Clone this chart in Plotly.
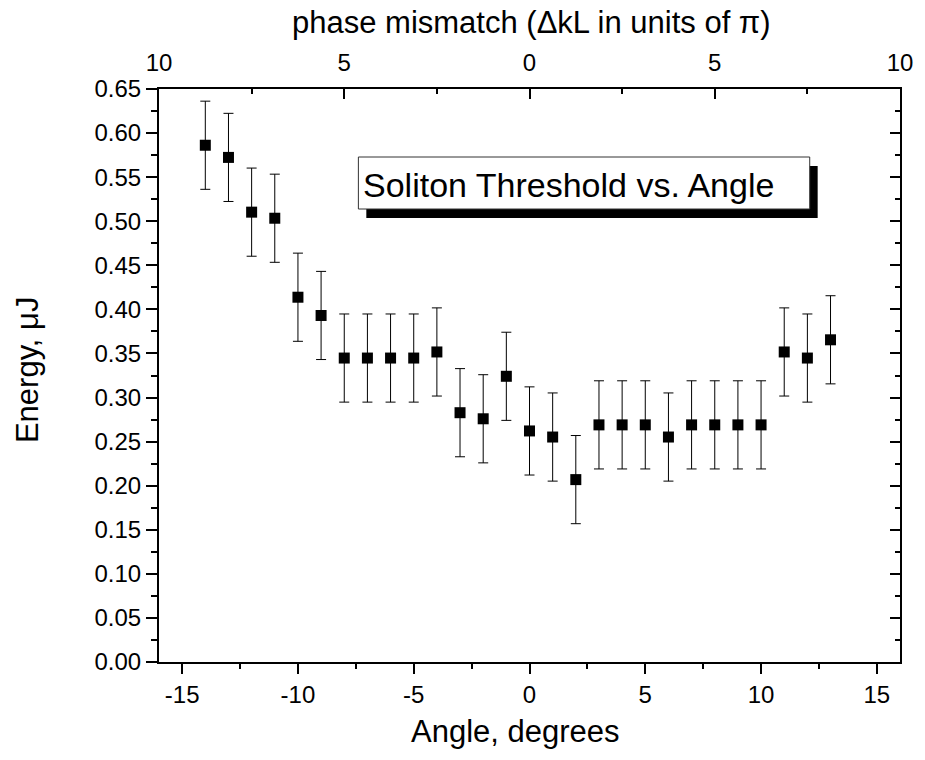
import plotly.graph_objects as go

# Soliton threshold energy measured at each crystal angle
angle_deg = [-14, -13, -12, -11, -10, -9, -8, -7, -6, -5, -4, -3, -2, -1,
             0, 1, 2, 3, 4, 5, 6, 7, 8, 9, 10, 11, 12, 13]
energy_uj = [0.5862, 0.5724, 0.5103, 0.5034, 0.4138, 0.3931, 0.3448, 0.3448,
             0.3448, 0.3448, 0.3517, 0.2828, 0.2759, 0.3241, 0.2621, 0.2552,
             0.2069, 0.2690, 0.2690, 0.2690, 0.2552, 0.2690, 0.2690, 0.2690,
             0.2690, 0.3517, 0.3448, 0.3655]
energy_err = [0.05] * len(angle_deg)

# Bottom axis ticks (plain hyphen minus signs)
angle_ticks = [-15, -10, -5, 0, 5, 10, 15]
angle_labels = ["-15", "-10", "-5", "0", "5", "10", "15"]

# Top axis: phase mismatch (absolute value, units of pi)
phase_ticks = [-10, -5, 0, 5, 10]
phase_labels = ["10", "5", "0", "5", "10"]
phase_minor = [-7.5, -2.5, 2.5, 7.5]

FONT = "Liberation Sans, Arial, sans-serif"

L, R, T, B = 159, 19, 89, 98
W, H = 925, 760
PW, PH = W - L - R, H - T - B


def px(x):
    return (x - L) / PW


def py(y):
    return (H - B - y) / PH


fig = go.Figure()

fig.add_trace(go.Scatter(
    x=angle_deg, y=energy_uj,
    mode="markers",
    marker=dict(symbol="square", size=11, color="black"),
    error_y=dict(type="data", array=energy_err, visible=True,
                 color="black", thickness=1, width=5),
    showlegend=False,
))

# helper trace that anchors the secondary (top / right) axes
fig.add_trace(go.Scatter(
    x=[phase_ticks[0], phase_ticks[-1]], y=[0, 0.65],
    xaxis="x2", yaxis="y2", mode="markers",
    marker=dict(opacity=0), hoverinfo="skip", showlegend=False,
))

axis_common = dict(showgrid=False, zeroline=False, showline=True,
                   linecolor="black", linewidth=2, tickcolor="black",
                   tickwidth=2, tickfont=dict(family=FONT, size=24, color="black"))

fig.update_layout(
    width=W, height=H,
    margin=dict(l=L, r=R, t=T, b=B, pad=0),
    paper_bgcolor="white", plot_bgcolor="white",
    font=dict(family=FONT, color="black"),
    xaxis=dict(
        range=[-16, 16], tickmode="array", tickvals=angle_ticks,
        ticktext=angle_labels, ticks="outside", ticklen=10,
        minor=dict(dtick=2.5, tick0=0, ticks="outside", ticklen=5,
                   tickwidth=2, tickcolor="black"),
        **axis_common,
    ),
    yaxis=dict(
        range=[0, 0.65], tickmode="linear", tick0=0, dtick=0.05,
        tickformat=".2f", ticks="outside", ticklen=11,
        minor=dict(dtick=0.025, tick0=0, ticks="outside", ticklen=6,
                   tickwidth=2, tickcolor="black"),
        **axis_common,
    ),
    xaxis2=dict(
        overlaying="x", side="top", anchor="y", range=[-10, 10],
        tickmode="array", tickvals=phase_ticks, ticktext=phase_labels,
        ticks="inside", ticklen=10, ticklabelstandoff=6,
        minor=dict(tickmode="array", tickvals=phase_minor, ticks="inside",
                   ticklen=5, tickwidth=2, tickcolor="black"),
        **axis_common,
    ),
    yaxis2=dict(
        overlaying="y", side="right", anchor="x", range=[0, 0.65],
        tickmode="linear", tick0=0, dtick=0.05, showticklabels=False,
        ticks="inside", ticklen=10,
        minor=dict(dtick=0.025, tick0=0, ticks="inside", ticklen=5,
                   tickwidth=2, tickcolor="black"),
        **axis_common,
    ),
)

title_font = dict(family=FONT, size=31, color="black")

# axis titles
fig.add_annotation(
    text="phase mismatch (\u0394kL in units of \u03c0)",
    xref="paper", yref="paper", x=px(535), y=py(22),
    xanchor="center", yanchor="middle", showarrow=False, font=title_font,
)
fig.add_annotation(
    text="Angle, degrees",
    xref="paper", yref="paper", x=px(518), y=py(731),
    xanchor="center", yanchor="middle", showarrow=False, font=title_font,
)
fig.add_annotation(
    text="Energy, \u03bcJ", textangle=-90,
    xref="paper", yref="paper", x=px(26), y=py(370),
    xanchor="center", yanchor="middle", showarrow=False, font=title_font,
)

# caption box with drop shadow
fig.add_shape(type="rect", xref="paper", yref="paper",
              x0=px(368), x1=px(823), y0=py(218), y1=py(166),
              fillcolor="black", line=dict(width=0))
fig.add_shape(type="rect", xref="paper", yref="paper",
              x0=px(360), x1=px(815), y0=py(209), y1=py(157),
              fillcolor="white", line=dict(color="#333333", width=1))
fig.add_annotation(
    text="Soliton Threshold vs. Angle",
    xref="paper", yref="paper", x=px(363), y=py(185),
    xanchor="left", yanchor="middle", showarrow=False,
    font=dict(family=FONT, size=34, color="black"),
)

fig.write_html("out.html")
